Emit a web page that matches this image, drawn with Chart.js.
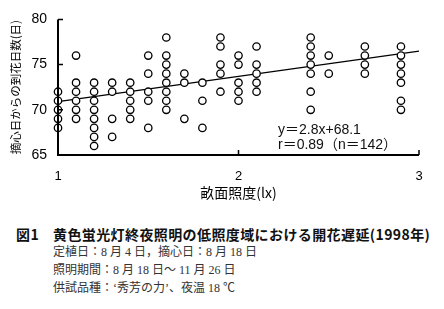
<!DOCTYPE html>
<html lang="ja">
<head>
    <meta charset="UTF-8">
    <title>Flowering delay chart</title>
    <script src="https://cdn.jsdelivr.net/npm/chart.js"></script>
    <style>
        body { margin: 0; background: #fff; }
        #wrap { position: relative; width: 444px; height: 309px; overflow: hidden; }
        #chartBox { position: absolute; left: 0; top: 0; width: 444px; height: 205px; }
        .txt { position: absolute; white-space: nowrap; color: #111; line-height: 18px; }
        .eq { font: 14px "Liberation Sans", "Noto Sans CJK JP", sans-serif; }
        .cap { font: bold 14px "Noto Sans CJK JP", sans-serif; letter-spacing: 0.4px; }
        .sub { font: 12px "Liberation Serif", "Noto Sans CJK JP", serif; color: #333; }
    </style>
</head>
<body>
<div id="wrap">
    <div id="chartBox"><canvas id="floweringchart"></canvas></div>
    <div class="txt eq" style="left:278px; top:118px;">y＝2.8x+68.1</div>
    <div class="txt eq" style="left:278px; top:133px;">r＝0.89（n＝142）</div>
    <div class="txt cap" style="left:16px; top:224px;">図1</div>
    <div class="txt cap" style="left:53px; top:224px;">黄色蛍光灯終夜照明の低照度域における開花遅延(1998年)</div>
    <div class="txt sub" style="left:53px; top:242px;">定植日：8 月 4 日，摘心日：8 月 18 日</div>
    <div class="txt sub" style="left:53px; top:260px;">照明期間：8 月 18 日～ 11 月 26 日</div>
    <div class="txt sub" style="left:53px; top:278px;">供試品種：‘秀芳の力’、夜温 18 ℃</div>
</div>
<script>
    // illuminance levels (lx) and the flowering days observed at each level
    const luxLevels = [1.0, 1.1, 1.2, 1.3, 1.4, 1.5, 1.6, 1.7, 1.8, 1.9, 2.0, 2.1, 2.4, 2.5, 2.7, 2.9];
    const daysAtLevel = [
        [72, 71, 70, 69, 68],
        [76, 73, 72, 71, 70, 69],
        [73, 72, 71, 70, 69, 68, 67, 66],
        [73, 72, 69, 67],
        [73, 72, 71, 70, 69],
        [76, 74, 72, 71, 68],
        [78, 76, 75, 74, 73, 72, 71, 70],
        [74, 73, 69],
        [73, 71, 68],
        [78, 77, 75, 74, 72],
        [76, 75, 73, 72, 71],
        [77, 75, 74, 73, 72],
        [78, 77, 76, 75, 74, 72, 70],
        [76, 74],
        [77, 76, 75, 74],
        [77, 76, 75, 74, 73, 71, 70]
    ];
    // regression line y = 2.8x + 68.1, end points
    const fitX = [1, 3];
    const fitY = [70.9, 76.5];
    const yTicks = [65, 70, 75, 80];
    const xTicks = [1, 2, 3];

    const points = [];
    luxLevels.forEach((lx, i) => {
        daysAtLevel[i].forEach(d => points.push({x: lx, y: d}));
    });
    const fitLine = fitX.map((x, i) => ({x: x, y: fitY[i]}));

    // axis lines with short inward ticks
    const axisPlugin = {
        id: 'axisLines',
        afterDatasetsDraw(chart) {
            const {ctx, chartArea: a, scales: {x, y}} = chart;
            ctx.save();
            ctx.strokeStyle = '#000';
            ctx.lineWidth = 2;
            ctx.beginPath();
            ctx.moveTo(a.left, a.top);
            ctx.lineTo(a.left, a.bottom);
            ctx.lineTo(a.right, a.bottom);
            ctx.stroke();
            ctx.lineWidth = 1.5;
            ctx.beginPath();
            yTicks.forEach(v => {
                const py = y.getPixelForValue(v);
                ctx.moveTo(a.left, py);
                ctx.lineTo(a.left + 5, py);
            });
            xTicks.forEach(v => {
                const px = x.getPixelForValue(v);
                ctx.moveTo(px, a.bottom);
                ctx.lineTo(px, a.bottom - 5);
            });
            ctx.stroke();
            ctx.restore();
        }
    };

    const ctx = document.getElementById('floweringchart').getContext('2d');
    new Chart(ctx, {
        type: 'scatter',
        data: {
            datasets: [{
                data: points,
                pointStyle: 'circle',
                pointRadius: 3.7,
                pointBorderWidth: 1.3,
                pointBorderColor: '#000',
                pointBackgroundColor: '#fff',
                clip: false,
                order: 1
            }, {
                type: 'line',
                data: fitLine,
                borderColor: '#000',
                borderWidth: 1.2,
                pointRadius: 0,
                fill: false,
                clip: false,
                order: 2
            }]
        },
        options: {
            responsive: true,
            maintainAspectRatio: false,
            animation: false,
            layout: { padding: { top: 16, right: 25, left: 0, bottom: 0 } },
            plugins: {
                legend: { display: false },
                tooltip: { enabled: false }
            },
            scales: {
                x: {
                    type: 'linear',
                    min: 1,
                    max: 3,
                    afterFit: s => { s.height = 50; },
                    afterBuildTicks: s => { s.ticks = xTicks.map(v => ({value: v})); },
                    grid: { display: false, drawTicks: false },
                    border: { display: false },
                    ticks: {
                        color: '#000',
                        padding: 14,
                        font: { family: 'Liberation Sans', size: 13 }
                    },
                    title: {
                        display: true,
                        text: '畝面照度(lx)',
                        color: '#000',
                        padding: { top: 0, bottom: 4 },
                        font: { family: '"Noto Sans CJK JP", "Liberation Sans"', size: 14 }
                    }
                },
                y: {
                    min: 65,
                    max: 80,
                    afterFit: s => { s.width = 58; },
                    afterBuildTicks: s => { s.ticks = yTicks.map(v => ({value: v})); },
                    grid: { display: false, drawTicks: false },
                    border: { display: false },
                    ticks: {
                        color: '#000',
                        padding: 11,
                        font: { family: 'Liberation Sans', size: 14 }
                    },
                    title: {
                        display: true,
                        text: '摘心日からの到花日数(日)',
                        color: '#000',
                        padding: { top: 9, bottom: 0 },
                        font: { family: '"Noto Sans CJK JP", "Liberation Sans"', size: 11.5 }
                    }
                }
            }
        },
        plugins: [axisPlugin]
    });
</script>
</body>
</html>
